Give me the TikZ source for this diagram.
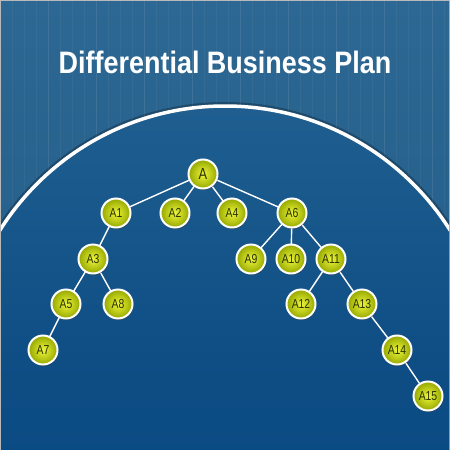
\documentclass[tikz,border=0pt]{standalone}
\usepackage{fontspec}
\setmainfont{Liberation Sans}
\usetikzlibrary{shadows}
\definecolor{bgtop}{HTML}{2C6893}
\definecolor{bgbot}{HTML}{225A87}
\definecolor{inner}{HTML}{064680}
\definecolor{innerhi}{HTML}{1F5E8F}
\definecolor{ballhi}{HTML}{EEF53A}
\definecolor{balllo}{HTML}{95A800}
\definecolor{txt}{HTML}{2A3300}
\tikzset{
  ball/.style={circle, minimum size=29pt, inner sep=0pt, draw=white, line width=2pt,
    inner color=ballhi, outer color=balllo,
    drop shadow={shadow xshift=0.8pt, shadow yshift=-1.5pt, opacity=0.55, fill=black!80},
    font=\fontsize{13}{13}\selectfont, text=txt},
  edge/.style={white, line width=1.4pt},
}
\newcommand{\lbl}[1]{\scalebox{0.8}[1]{#1}}
\begin{document}
\begin{tikzpicture}[x=1pt,y=-1pt]
\useasboundingbox (0,0) rectangle (450,450);
\fill[gray!55] (0,0) rectangle (450,450);
\begin{scope}
\clip (1,1) rectangle (449,449);
\shade[top color=bgtop, bottom color=bgbot] (1,1) rectangle (449,449);
\draw[white, opacity=0.045, line width=0.5pt, step=12] (0,0) grid (450,450);
\draw[white, opacity=0.05, line width=0.8pt, step=48] (0,0) grid (450,450);
% inner disc
\fill[black, opacity=0.25] (225,372) circle (270);
\shade[top color=innerhi, bottom color=inner, middle color=inner!70!innerhi] (225,372) circle (265);
\draw[white, line width=3.5pt] (225,372) circle (266);
\end{scope}
% title
\node[text=white, font=\bfseries\fontsize{31}{31}\selectfont] (title) at (225,62) {\scalebox{0.87}[1]{Differential Business Plan}};
% edges
\coordinate (pA) at (203,174);
\coordinate (p1) at (116,213);
\coordinate (p2) at (175,213);
\coordinate (p4) at (232,213);
\coordinate (p6) at (292,213);
\coordinate (p3) at (93,259);
\coordinate (p5) at (66,304);
\coordinate (p8) at (118,304);
\coordinate (p7) at (43,350);
\coordinate (p9) at (251,259);
\coordinate (p10) at (291,259);
\coordinate (p11) at (331,259);
\coordinate (p12) at (301,304);
\coordinate (p13) at (362,304);
\coordinate (p14) at (397,350);
\coordinate (p15) at (428,396);
\foreach \a/\b in {pA/p1,pA/p2,pA/p4,pA/p6,p1/p3,p3/p5,p3/p8,p5/p7,p6/p9,p6/p10,p6/p11,p11/p12,p11/p13,p13/p14,p14/p15}
  \draw[edge] (\a) -- (\b);
\node[ball, font=\fontsize{16}{16}\selectfont] (A) at (pA) {\lbl{A}};
\node[ball] (A1) at (p1) {\lbl{A1}};
\node[ball] (A2) at (p2) {\lbl{A2}};
\node[ball] (A4) at (p4) {\lbl{A4}};
\node[ball] (A6) at (p6) {\lbl{A6}};
\node[ball] (A3) at (p3) {\lbl{A3}};
\node[ball] (A5) at (p5) {\lbl{A5}};
\node[ball] (A8) at (p8) {\lbl{A8}};
\node[ball] (A7) at (p7) {\lbl{A7}};
\node[ball] (A9) at (p9) {\lbl{A9}};
\node[ball] (A10) at (p10) {\lbl{A10}};
\node[ball] (A11) at (p11) {\lbl{A11}};
\node[ball] (A12) at (p12) {\lbl{A12}};
\node[ball] (A13) at (p13) {\lbl{A13}};
\node[ball] (A14) at (p14) {\lbl{A14}};
\node[ball] (A15) at (p15) {\lbl{A15}};
\end{tikzpicture}
\end{document}
